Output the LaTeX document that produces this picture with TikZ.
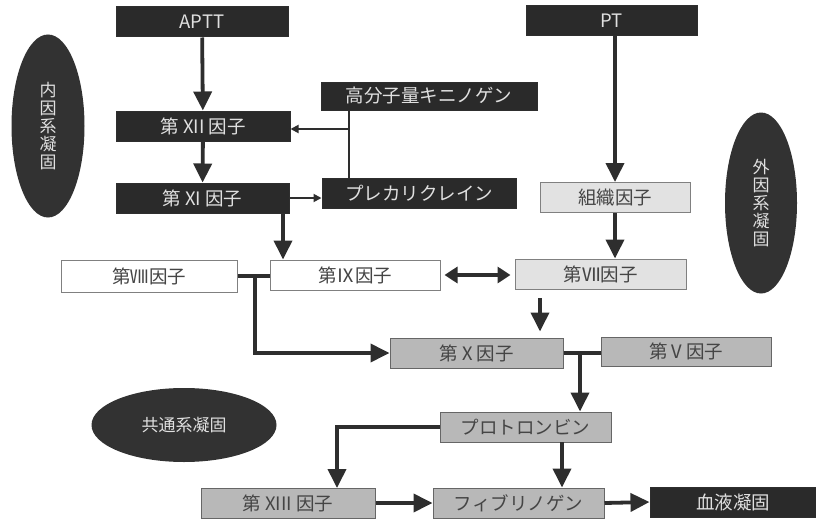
\documentclass[tikz,border=0pt]{standalone}
\usepackage{fontspec}
\setmainfont{Noto Sans CJK JP}
\usetikzlibrary{arrows.meta,shapes.geometric}
\definecolor{darkbox}{HTML}{2A2A2A}
\definecolor{darktext}{HTML}{E0E0E0}
\definecolor{lightbox}{HTML}{E2E2E2}
\definecolor{midbox}{HTML}{B8B8B8}
\definecolor{linecol}{HTML}{2E2E2E}
\definecolor{boxtext}{HTML}{454545}
\definecolor{ovalcol}{HTML}{323232}
\tikzset{
  box/.style={draw=linecol, line width=1pt, inner sep=0pt, minimum height=30pt,
    font=\fontsize{18.5}{20}\selectfont, text=boxtext},
  darkb/.style={box, fill=darkbox, text=darktext},
  lightb/.style={box, fill=lightbox, draw=gray},
  whiteb/.style={box, fill=white, draw=gray},
  midb/.style={box, fill=midbox, draw=gray!80!black},
  oval/.style={ellipse, fill=ovalcol, draw=none, inner sep=0pt, text=darktext,
    font=\fontsize{17}{18}\selectfont, align=center},
  thickarrow/.style={draw=linecol, line width=3.8pt, -{Triangle[length=19pt,width=18pt]}},
  thickline/.style={draw=linecol, line width=3.8pt},
  thinarrow/.style={draw=linecol, line width=1.8pt, -{Triangle[length=8pt,width=8pt]}},
  thinline/.style={draw=linecol, line width=1.8pt},
  dblarrow/.style={draw=linecol, line width=3.8pt, {Triangle[length=13pt,width=16pt]}-{Triangle[length=13pt,width=16pt]}},
}
\begin{document}
\begin{tikzpicture}[x=1pt,y=-1pt]
\useasboundingbox (0,0) rectangle (816,519);
\fill[white] (0,0) rectangle (816,519);
% nodes
\node[darkb, minimum width=172pt] (aptt) at (202,22) {APTT};
\node[darkb, minimum width=171pt] (pt) at (611.5,21) {PT};
\node[darkb, minimum width=216pt, minimum height=28pt] (kini) at (429,96) {高分子量キニノゲン};
\node[darkb, minimum width=174pt] (f12) at (203,126) {第 XII 因子};
\node[darkb, minimum width=173pt] (f11) at (202.5,198) {第 XI 因子};
\node[darkb, minimum width=194pt] (prek) at (419,193) {プレカリクレイン};
\node[lightb, minimum width=150pt] (tf) at (615,197.5) {組織因子};
\node[whiteb, minimum width=176pt, minimum height=32pt] (f8) at (149,276) {第Ⅷ因子};
\node[whiteb, minimum width=170pt] (f9) at (355,275) {第Ⅸ因子};
\node[lightb, minimum width=171pt] (f7) at (600.5,274) {第Ⅶ因子};
\node[midb, minimum width=173pt] (f10) at (476.5,353) {第Ⅹ因子};
\node[midb, minimum width=170pt, minimum height=29pt] (f5) at (686,351.5) {第Ⅴ因子};
\node[midb, minimum width=171pt] (pro) at (525.5,427) {プロトロンビン};
\node[midb, minimum width=174pt] (f13) at (288,503) {第 XIII 因子};
\node[midb, minimum width=171pt] (fib) at (518.5,503) {フィブリノゲン};
\node[darkb, minimum width=166pt] (clot) at (733,502) {血液凝固};
% ovals
\node[oval, minimum width=73pt, minimum height=183pt] (intr) at (48,126) {内\\因\\系\\凝\\固};
\node[oval, minimum width=72pt, minimum height=181pt] (extr) at (761,203) {外\\因\\系\\凝\\固};
\node[oval, minimum width=185pt, minimum height=74pt] (comm) at (184,425) {共通系凝固};
% helper coordinates
\coordinate (kx) at (349,129);
\coordinate (a11) at (283,213);
\coordinate (a7) at (540,289);
\coordinate (j1) at (255,276);
\coordinate (j2) at (580,352);
\coordinate (p1) at (562,442);
\coordinate (t13) at (337,488);
% connectors
\draw[thickarrow] (aptt) -- (f12);
\draw[thickarrow] (f12) -- (f11);
\draw[thickarrow] (a11) -- (a11 |- f9.north);
\draw[thinline] (kini.south -| kx) -- (prek.north -| kx);
\draw[thinarrow] (kx) -- (kx -| f12.east);
\draw[thinarrow] (f11.east) -- (f11.east -| prek.west);
\draw[thickarrow] (tf.north |- pt.south) -- (tf.north);
\draw[thickarrow] (tf.south) -- (tf.south |- f7.north);
\draw[dblarrow, shorten <=4pt, shorten >=4pt] (f9.east) -- (f9.east -| f7.west);
\draw[thickarrow, shorten <=9pt, shorten >=6pt] (a7) -- (a7 |- f10.north);
\draw[thickline] (f8.east) -- (f8.east -| f9.west);
\draw[thickarrow] (j1) |- (f10.west);
\draw[thickline] (f10.east) -- (f10.east -| f5.west);
\draw[thickarrow] (j2) -- (j2 |- pro.north);
\draw[thickarrow] (p1) -- (p1 |- fib.north);
\draw[thickarrow] (pro.west) -| (t13);
\draw[thickarrow] (f13.east) -- (fib.west);
\draw[thickarrow] (fib.east) -- (clot.west);
\end{tikzpicture}
\end{document}
